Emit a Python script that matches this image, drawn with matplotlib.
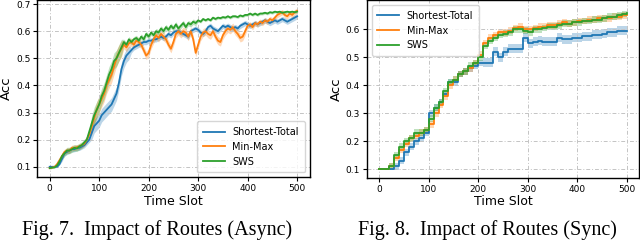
import numpy as np
import matplotlib
matplotlib.use("Agg")
import matplotlib.pyplot as plt

# ---- Async (Fig. 7), sampled every 5 time slots ----
t_async = list(range(0, 501, 5))

async_sws = [0.095, 0.097, 0.098, 0.105, 0.12, 0.14, 0.15, 0.16, 0.16, 0.165,
             0.17, 0.168, 0.175, 0.18, 0.19, 0.20, 0.23, 0.26, 0.29, 0.31,
             0.33, 0.36, 0.38, 0.41, 0.44, 0.46, 0.49, 0.50, 0.52, 0.54,
             0.56, 0.55, 0.57, 0.56, 0.57, 0.575, 0.565, 0.58, 0.57, 0.59,
             0.58, 0.595, 0.585, 0.60, 0.595, 0.61, 0.60, 0.615, 0.605, 0.62,
             0.61, 0.625, 0.61, 0.62, 0.63, 0.615, 0.63, 0.625, 0.635, 0.63,
             0.64, 0.635, 0.645, 0.64, 0.645, 0.64, 0.65, 0.645, 0.65, 0.648,
             0.652, 0.65, 0.655, 0.65, 0.655, 0.655, 0.652, 0.658, 0.655, 0.66,
             0.66, 0.665, 0.66, 0.665, 0.66, 0.665, 0.665, 0.668, 0.665, 0.67,
             0.668, 0.672, 0.67, 0.672, 0.668, 0.67, 0.672, 0.67, 0.672, 0.67,
             0.672]

async_minmax = [0.095, 0.097, 0.10, 0.11, 0.125, 0.14, 0.155, 0.16, 0.16, 0.17,
                0.17, 0.172, 0.175, 0.18, 0.185, 0.20, 0.22, 0.25, 0.28, 0.31,
                0.33, 0.35, 0.37, 0.40, 0.42, 0.44, 0.47, 0.50, 0.52, 0.535,
                0.55, 0.54, 0.555, 0.56, 0.55, 0.565, 0.56, 0.55, 0.53, 0.51,
                0.52, 0.55, 0.57, 0.585, 0.575, 0.59, 0.58, 0.57, 0.55, 0.535,
                0.56, 0.59, 0.60, 0.59, 0.60, 0.595, 0.58, 0.60, 0.57, 0.52,
                0.55, 0.58, 0.595, 0.60, 0.59, 0.585, 0.60, 0.58, 0.565, 0.56,
                0.585, 0.60, 0.61, 0.605, 0.615, 0.60, 0.59, 0.575, 0.58, 0.60,
                0.62, 0.625, 0.615, 0.63, 0.625, 0.635, 0.63, 0.64, 0.635, 0.645,
                0.64, 0.65, 0.66, 0.665, 0.67, 0.66, 0.655, 0.665, 0.66, 0.67,
                0.675]

async_shortest = [0.10, 0.10, 0.10, 0.10, 0.11, 0.13, 0.15, 0.155, 0.16, 0.165,
                  0.165, 0.17, 0.17, 0.175, 0.18, 0.19, 0.20, 0.225, 0.25, 0.26,
                  0.27, 0.29, 0.30, 0.31, 0.32, 0.33, 0.35, 0.37, 0.41, 0.46,
                  0.49, 0.51, 0.52, 0.53, 0.54, 0.545, 0.55, 0.555, 0.56, 0.56,
                  0.565, 0.565, 0.57, 0.57, 0.575, 0.58, 0.575, 0.58, 0.59, 0.585,
                  0.595, 0.60, 0.60, 0.595, 0.59, 0.585, 0.58, 0.60, 0.605, 0.61,
                  0.605, 0.595, 0.59, 0.60, 0.615, 0.62, 0.61, 0.605, 0.60, 0.61,
                  0.62, 0.615, 0.62, 0.615, 0.61, 0.615, 0.61, 0.62, 0.625, 0.63,
                  0.625, 0.62, 0.625, 0.63, 0.625, 0.63, 0.635, 0.64, 0.635, 0.63,
                  0.635, 0.64, 0.635, 0.64, 0.645, 0.64, 0.635, 0.64, 0.645, 0.65,
                  0.655]

# band half-widths (read piecewise from the shaded areas)
async_sws_sd = [0.003] * 5 + [0.012] * 12 + [0.03] * 13 + [0.01] * 30 + [0.005] * 41
async_minmax_sd = [0.003] * 5 + [0.01] * 12 + [0.03] * 13 + [0.015] * 50 + [0.01] * 21
async_shortest_sd = [0.003] * 5 + [0.01] * 12 + [0.025] * 16 + [0.01] * 68

# ---- Sync (Fig. 8), sampled every 10 time slots ----
t_sync = list(range(0, 501, 10))

sync_sws = [0.10, 0.10, 0.11, 0.15, 0.18, 0.20, 0.21, 0.23, 0.23, 0.24,
            0.28, 0.32, 0.34, 0.38, 0.41, 0.42, 0.44, 0.45, 0.47, 0.48,
            0.50, 0.54, 0.56, 0.57, 0.58, 0.585, 0.59, 0.60, 0.60, 0.595,
            0.59, 0.60, 0.60, 0.605, 0.61, 0.61, 0.615, 0.62, 0.62, 0.625,
            0.625, 0.63, 0.63, 0.635, 0.635, 0.64, 0.645, 0.645, 0.65, 0.655,
            0.66]

sync_minmax = [0.10, 0.10, 0.11, 0.14, 0.17, 0.19, 0.21, 0.22, 0.23, 0.24,
               0.26, 0.30, 0.33, 0.36, 0.40, 0.42, 0.44, 0.45, 0.46, 0.48,
               0.51, 0.55, 0.57, 0.58, 0.59, 0.59, 0.595, 0.605, 0.61, 0.60,
               0.60, 0.605, 0.61, 0.61, 0.615, 0.615, 0.62, 0.625, 0.62, 0.625,
               0.63, 0.63, 0.635, 0.635, 0.64, 0.64, 0.64, 0.645, 0.645, 0.65,
               0.65]

sync_shortest = [0.10, 0.10, 0.10, 0.11, 0.13, 0.16, 0.18, 0.20, 0.21, 0.23,
                 0.30, 0.32, 0.34, 0.37, 0.41, 0.41, 0.44, 0.45, 0.46, 0.47,
                 0.48, 0.48, 0.48, 0.52, 0.50, 0.52, 0.53, 0.53, 0.53, 0.57,
                 0.55, 0.555, 0.56, 0.555, 0.555, 0.555, 0.57, 0.565, 0.565, 0.57,
                 0.57, 0.575, 0.575, 0.58, 0.58, 0.585, 0.59, 0.59, 0.595, 0.595,
                 0.595]

sync_sws_sd = [0.003] * 2 + [0.012] * 49
sync_minmax_sd = [0.003] * 2 + [0.012] * 49
sync_shortest_sd = [0.003] * 3 + [0.012] * 18 + [0.016] * 30

labels = ["Shortest-Total", "Min-Max", "SWS"]
colors = ["#1f77b4", "#ff7f0e", "#2ca02c"]

plt.rcParams["font.family"] = "DejaVu Sans"

fig = plt.figure(figsize=(6.4, 2.4), dpi=100)
ax1 = fig.add_axes([0.0583, 0.261, 0.4253, 0.739])
ax2 = fig.add_axes([0.573, 0.258, 0.4255, 0.742])


def draw(ax, t, series, sds, step):
    t = np.array(t)
    for y, sd, lab, c in zip(series, sds, labels, colors):
        y = np.array(y)
        sd = np.array(sd)
        if step:
            ax.fill_between(t, y - sd, y + sd, color=c, alpha=0.3, lw=0, step="post")
            ax.plot(t, y, color=c, lw=1.3, label=lab, drawstyle="steps-post")
        else:
            ax.fill_between(t, y - sd, y + sd, color=c, alpha=0.3, lw=0)
            ax.plot(t, y, color=c, lw=1.3, label=lab)
    ax.set_xlim(-25, 525)
    ax.set_xticks([0, 100, 200, 300, 400, 500])
    ax.grid(True, linestyle=(0, (4, 2, 1, 2)), color="#c4c4c4", lw=0.7)
    ax.set_xlabel("Time Slot", fontsize=9, labelpad=1)
    ax.set_ylabel("Acc", fontsize=9.5, labelpad=2)
    ax.tick_params(labelsize=6.5, pad=2, length=3)
    for s in ax.spines.values():
        s.set_linewidth(1.0)


draw(ax1, t_async, [async_shortest, async_minmax, async_sws],
     [async_shortest_sd, async_minmax_sd, async_sws_sd], False)
ax1.set_ylim(0.061, 0.715)
ax1.set_yticks([0.1, 0.2, 0.3, 0.4, 0.5, 0.6, 0.7])
ax1.legend(loc="lower right", fontsize=7, handlelength=2.2, borderpad=0.6,
           labelspacing=0.5)

draw(ax2, t_sync, [sync_shortest, sync_minmax, sync_sws],
     [sync_shortest_sd, sync_minmax_sd, sync_sws_sd], True)
ax2.set_ylim(0.068, 0.705)
ax2.set_yticks([0.1, 0.2, 0.3, 0.4, 0.5, 0.6])
ax2.legend(loc="upper left", fontsize=7, handlelength=2.2, borderpad=0.6,
           labelspacing=0.5)

# captions sit at the bottom edge; lifted just enough to keep descenders inside
fig.text(157 / 640, 5 / 240, "Fig. 7.  Impact of Routes (Async)", ha="center",
         va="baseline", fontsize=14.5, family="Liberation Serif")
fig.text(487 / 640, 5 / 240, "Fig. 8.  Impact of Routes (Sync)", ha="center",
         va="baseline", fontsize=14.5, family="Liberation Serif")

fig.savefig("out.png", dpi=100)
